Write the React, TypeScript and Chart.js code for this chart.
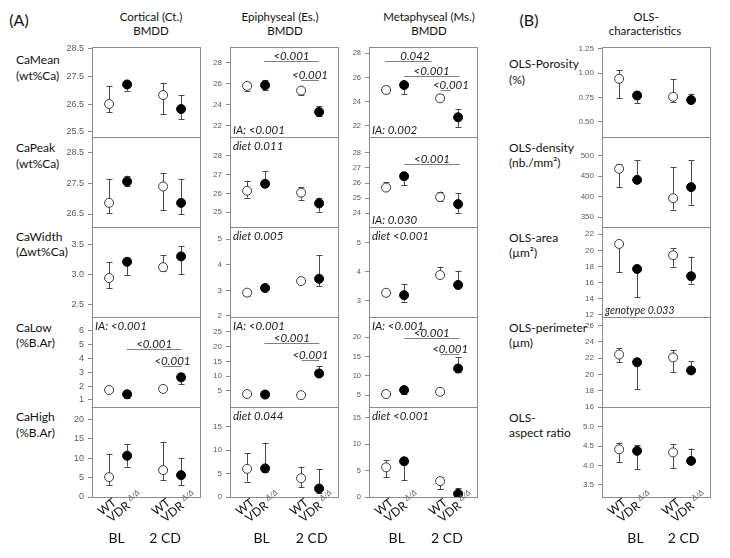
import React, { useEffect, useRef } from "react";
import { Chart, registerables } from "chart.js";
Chart.register(...registerables);

const FONT = "Lato, 'Open Sans', sans-serif";
const TICK_FONT = "'Liberation Sans', Arial, sans-serif";

// ---- categories ----
const X_POS = [1, 2, 4, 5];
const GENOTYPES = ["WT", "VDR", "WT", "VDR"];
const GENO_SUP = ["", "Δ/Δ", "", "Δ/Δ"];
const DIETS = ["BL", "2 CD"];

// ---- values: [mean, lower, upper] for WT-BL, VDR-BL, WT-2CD, VDR-2CD ----
const ctCaMean = [[26.5, 26.2, 27.15], [27.2, 26.98, 27.3], [26.82, 26.13, 27.26], [26.32, 25.96, 26.82]];
const esCaMean = [[25.8, 25.36, 26.16], [25.87, 25.43, 26.38], [25.36, 24.95, 25.69], [23.33, 22.92, 23.9]];
const msCaMean = [[24.96, 24.69, 25.32], [25.37, 24.63, 25.56], [24.27, 24.1, 24.6], [22.7, 21.92, 23.36]];
const ctCaPeak = [[26.86, 26.52, 27.64], [27.55, 27.41, 27.74], [27.39, 26.63, 27.82], [26.86, 26.49, 27.64]];
const esCaPeak = [[26.14, 25.78, 26.67], [26.51, 26.45, 27.17], [26.04, 25.67, 26.32], [25.47, 25.03, 25.78]];
const msCaPeak = [[25.7, 25.65, 26.07], [26.45, 25.87, 26.5], [25.07, 24.79, 25.44], [24.61, 24.04, 25.33]];
const ctCaWidth = [[2.94, 2.77, 3.2], [3.21, 2.99, 3.28], [3.12, 3.05, 3.32], [3.3, 3.0, 3.47]];
const esCaWidth = [[2.91, 2.78, 3.0], [3.09, 3.05, 3.14], [3.36, 3.28, 3.46], [3.45, 3.17, 4.38]];
const msCaWidth = [[3.28, 3.24, 3.32], [3.2, 2.98, 3.57], [3.89, 3.85, 4.18], [3.55, 3.5, 4.04]];
const ctCaLow = [[1.72, 1.65, 1.8], [1.41, 1.13, 1.72], [1.8, 1.7, 1.9], [2.64, 2.16, 2.97]];
const esCaLow = [[3.99, 3.3, 4.6], [3.8, 3.4, 4.2], [3.6, 3.2, 4.0], [10.9, 9.9, 13.4]];
const msCaLow = [[5.26, 5.0, 5.5], [6.3, 5.4, 7.3], [5.85, 5.6, 6.1], [11.9, 11.1, 14.9]];
const ctCaHigh = [[5.1, 3.0, 11.1], [10.6, 7.8, 13.6], [6.9, 4.4, 14.2], [5.6, 3.0, 10.1]];
const esCaHigh = [[6.0, 3.3, 9.4], [6.1, 5.3, 11.6], [4.0, 2.1, 6.5], [1.8, 0.85, 6.0]];
const msCaHigh = [[5.6, 3.75, 6.9], [6.75, 3.2, 7.6], [3.0, 1.5, 3.7], [0.6, 0.2, 1.7]];
const olsPorosity = [[0.942, 0.745, 1.028], [0.77, 0.69, 0.79], [0.757, 0.7, 0.94], [0.723, 0.7, 0.79]];
const olsDensity = [[467.6, 423, 479], [440.7, 438, 488], [396, 368, 472], [423, 380, 489]];
const olsArea = [[20.8, 17.3, 21.0], [17.7, 14.2, 17.85], [19.4, 18.0, 20.3], [16.8, 15.9, 19.2]];
const olsPerimeter = [[22.45, 21.5, 23.2], [21.5, 18.2, 21.6], [22.1, 20.3, 23.0], [20.5, 20.4, 21.6]];
const olsAspect = [[4.42, 4.09, 4.59], [4.38, 3.9, 4.52], [4.34, 3.94, 4.55], [4.12, 4.1, 4.44]];

// ---- tick labels ----
const ctCaMeanTicks = [25.5, 26.5, 27.5, 28.5];
const esCaMeanTicks = [22, 24, 26, 28];
const msCaMeanTicks = [22, 24, 26, 28];
const ctCaPeakTicks = [26.5, 27.5, 28.5];
const esCaPeakTicks = [25, 26, 27, 28];
const msCaPeakTicks = [24, 25, 26, 27, 28];
const ctCaWidthTicks = [2.5, 3.0, 3.5];
const esCaWidthTicks = [2, 3, 4, 5];
const msCaWidthTicks = [3, 4, 5];
const ctCaLowTicks = [1, 2, 3, 4, 5, 6];
const esCaLowTicks = [5, 10, 15, 20, 25];
const msCaLowTicks = [5, 10, 15, 20];
const ctCaHighTicks = [0, 5, 10, 15, 20];
const esCaHighTicks = [0, 5, 10, 15];
const msCaHighTicks = [0, 5, 10, 15];
const olsPorosityTicks = [0.5, 0.75, 1.0, 1.25];
const olsDensityTicks = [350, 400, 450, 500];
const olsAreaTicks = [12, 14, 16, 18, 20, 22];
const olsPerimeterTicks = [16, 18, 20, 22, 24, 26];
const olsAspectTicks = [3.5, 4.0, 4.5, 5.0];

// ---- statistics annotations ----
type Ann =
  | { kind: "bar"; x1: number; x2: number; y: number; text: string; tx?: number }
  | { kind: "tl" | "bl"; text: string; small?: boolean };

const esCaMeanAnn: Ann[] = [
  { kind: "bar", x1: 1.94, x2: 4.99, y: 28.19, text: "<0.001" },
  { kind: "bar", x1: 4.0, x2: 4.99, y: 26.38, text: "<0.001" },
  { kind: "bl", text: "IA: <0.001" },
];
const msCaMeanAnn: Ann[] = [
  { kind: "bar", x1: 0.94, x2: 3.53, y: 27.36, text: "0.042", tx: 2.6 },
  { kind: "bar", x1: 1.99, x2: 5.07, y: 26.14, text: "<0.001" },
  { kind: "bar", x1: 4.03, x2: 4.59, y: 24.96, text: "<0.001", tx: 4.6 },
  { kind: "bl", text: "IA: 0.002" },
];
const esCaPeakAnn: Ann[] = [{ kind: "tl", text: "diet 0.011" }];
const msCaPeakAnn: Ann[] = [
  { kind: "bar", x1: 2.0, x2: 5.1, y: 27.23, text: "<0.001" },
  { kind: "bl", text: "IA: 0.030" },
];
const esCaWidthAnn: Ann[] = [{ kind: "tl", text: "diet 0.005" }];
const msCaWidthAnn: Ann[] = [{ kind: "tl", text: "diet <0.001" }];
const ctCaLowAnn: Ann[] = [
  { kind: "tl", text: "IA: <0.001" },
  { kind: "bar", x1: 1.98, x2: 5.03, y: 4.67, text: "<0.001" },
  { kind: "bar", x1: 4.01, x2: 5.03, y: 3.49, text: "<0.001" },
];
const esCaLowAnn: Ann[] = [
  { kind: "tl", text: "IA: <0.001" },
  { kind: "bar", x1: 1.96, x2: 5.01, y: 21.3, text: "<0.001" },
  { kind: "bar", x1: 4.03, x2: 5.01, y: 15.55, text: "<0.001" },
];
const msCaLowAnn: Ann[] = [
  { kind: "tl", text: "IA: <0.001" },
  { kind: "bar", x1: 2.0, x2: 5.07, y: 19.9, text: "<0.001" },
  { kind: "bar", x1: 4.05, x2: 5.07, y: 15.8, text: "<0.001" },
];
const esCaHighAnn: Ann[] = [{ kind: "tl", text: "diet 0.044" }];
const msCaHighAnn: Ann[] = [{ kind: "tl", text: "diet <0.001" }];
const olsAreaAnn: Ann[] = [{ kind: "bl", text: "genotype 0.033", small: true }];

// ---- layout (style only) ----
const COL_LEFT = [92, 230, 369, 602];
const ROW_TOP = [47, 137, 227, 317, 407];
const BOX_W = 108;
const BOX_H = 90;
const AXIS_W = 40;
const PAD_T = 10;
const PAD_R = 8;
const TICK_SIZE = [9, 8, 7.5, 8];
const DIET_X = [[1.42, 4.11], [1.81, 4.59], [1.59, 4.38], [1.91, 4.58]];

type Spec = {
  col: number; row: number; data: number[][]; ticks: number[]; min: number; max: number; dec: number; ann: Ann[];
};

const SPECS: Spec[] = [
  { col: 0, row: 0, data: ctCaMean, ticks: ctCaMeanTicks, min: 25.32, max: 28.54, dec: 1, ann: [] },
  { col: 1, row: 0, data: esCaMean, ticks: esCaMeanTicks, min: 20.95, max: 29.5, dec: 0, ann: esCaMeanAnn },
  { col: 2, row: 0, data: msCaMean, ticks: msCaMeanTicks, min: 21.07, max: 28.52, dec: 0, ann: msCaMeanAnn },
  { col: 3, row: 0, data: olsPorosity, ticks: olsPorosityTicks, min: 0.342, max: 1.27, dec: 2, ann: [] },
  { col: 0, row: 1, data: ctCaPeak, ticks: ctCaPeakTicks, min: 26.08, max: 28.99, dec: 1, ann: [] },
  { col: 1, row: 1, data: esCaPeak, ticks: esCaPeakTicks, min: 24.22, max: 28.99, dec: 0, ann: esCaPeakAnn },
  { col: 2, row: 1, data: msCaPeak, ticks: msCaPeakTicks, min: 23.1, max: 29.04, dec: 0, ann: msCaPeakAnn },
  { col: 3, row: 1, data: olsDensity, ticks: olsDensityTicks, min: 326, max: 545, dec: 0, ann: [] },
  { col: 0, row: 2, data: ctCaWidth, ticks: ctCaWidthTicks, min: 2.29, max: 3.79, dec: 1, ann: [] },
  { col: 1, row: 2, data: esCaWidth, ticks: esCaWidthTicks, min: 1.96, max: 5.47, dec: 0, ann: esCaWidthAnn },
  { col: 2, row: 2, data: msCaWidth, ticks: msCaWidthTicks, min: 2.45, max: 5.54, dec: 0, ann: msCaWidthAnn },
  { col: 3, row: 2, data: olsArea, ticks: olsAreaTicks, min: 11.75, max: 22.9, dec: 0, ann: olsAreaAnn },
  { col: 0, row: 3, data: ctCaLow, ticks: ctCaLowTicks, min: 0.49, max: 7.01, dec: 0, ann: ctCaLowAnn },
  { col: 1, row: 3, data: esCaLow, ticks: esCaLowTicks, min: -0.4, max: 29.97, dec: 0, ann: esCaLowAnn },
  { col: 2, row: 3, data: msCaLow, ticks: msCaLowTicks, min: 1.9, max: 25.3, dec: 0, ann: msCaLowAnn },
  { col: 3, row: 3, data: olsPerimeter, ticks: olsPerimeterTicks, min: 16, max: 27.07, dec: 0, ann: [] },
  { col: 0, row: 4, data: ctCaHigh, ticks: ctCaHighTicks, min: 0, max: 23.1, dec: 0, ann: [] },
  { col: 1, row: 4, data: esCaHigh, ticks: esCaHighTicks, min: 0, max: 19.2, dec: 0, ann: esCaHighAnn },
  { col: 2, row: 4, data: msCaHigh, ticks: msCaHighTicks, min: 0, max: 17.0, dec: 0, ann: msCaHighAnn },
  { col: 3, row: 4, data: olsAspect, ticks: olsAspectTicks, min: 3.19, max: 5.51, dec: 1, ann: [] },
];

const decoPlugin = {
  id: "panelDeco",
  beforeDatasetsDraw(chart: any, _a: any, opts: any) {
    const spec: Spec = opts.spec;
    const { ctx, chartArea: a, scales } = chart;
    const xs = scales.x, ys = scales.y;
    ctx.save();
    // panel box
    ctx.strokeStyle = "#8c8c8c";
    ctx.lineWidth = 1;
    ctx.strokeRect(Math.round(a.left) + 0.5, Math.round(a.top) + 0.5, Math.round(a.right - a.left), Math.round(a.bottom - a.top));
    // error bars
    ctx.strokeStyle = "#4a4a4a";
    ctx.lineWidth = 1;
    spec.data.forEach((d, i) => {
      const px = Math.round(xs.getPixelForValue(X_POS[i])) + 0.5;
      const yl = ys.getPixelForValue(d[1]);
      const yh = ys.getPixelForValue(d[2]);
      ctx.beginPath();
      ctx.moveTo(px, yl); ctx.lineTo(px, yh);
      ctx.moveTo(px - 3, Math.round(yl) + 0.5); ctx.lineTo(px + 3, Math.round(yl) + 0.5);
      ctx.moveTo(px - 3, Math.round(yh) + 0.5); ctx.lineTo(px + 3, Math.round(yh) + 0.5);
      ctx.stroke();
    });
    ctx.restore();
  },
  afterDatasetsDraw(chart: any, _a: any, opts: any) {
    const spec: Spec = opts.spec;
    const { ctx, chartArea: a, scales } = chart;
    const xs = scales.x, ys = scales.y;
    ctx.save();
    spec.ann.forEach((an) => {
      if (an.kind === "bar") {
        const x1 = xs.getPixelForValue(an.x1), x2 = xs.getPixelForValue(an.x2);
        const y = Math.round(ys.getPixelForValue(an.y)) + 0.5;
        ctx.strokeStyle = "#808080";
        ctx.lineWidth = 1;
        ctx.beginPath(); ctx.moveTo(x1, y); ctx.lineTo(x2, y); ctx.stroke();
        ctx.fillStyle = "#1a1a1a";
        ctx.font = `italic 11.5px ${FONT}`;
        ctx.textAlign = "center";
        ctx.textBaseline = "alphabetic";
        const tx = an.tx !== undefined ? xs.getPixelForValue(an.tx) : (x1 + x2) / 2;
        ctx.fillText(an.text, tx, y - 2);
      } else {
        ctx.fillStyle = "#1a1a1a";
        ctx.font = `italic ${an.small ? 10.5 : 11.5}px ${FONT}`;
        ctx.textAlign = "left";
        ctx.textBaseline = "alphabetic";
        const y = an.kind === "tl" ? a.top + 13 : a.bottom - 3;
        ctx.fillText(an.text, a.left + 3, y);
      }
    });
    ctx.restore();
  },
  afterDraw(chart: any, _a: any, opts: any) {
    const spec: Spec = opts.spec;
    if (spec.row !== 4) return;
    const { ctx, chartArea: a, scales } = chart;
    const xs = scales.x;
    ctx.save();
    X_POS.forEach((xv, i) => {
      const px = xs.getPixelForValue(xv);
      const main = GENOTYPES[i] + (GENO_SUP[i] ? " " : "");
      ctx.font = `12px ${FONT}`;
      const w1 = ctx.measureText(main).width;
      ctx.font = `italic 8px ${FONT}`;
      const w2 = GENO_SUP[i] ? ctx.measureText(GENO_SUP[i]).width : 0;
      const w = w1 + w2;
      ctx.save();
      ctx.translate(px - 2, a.bottom + 10);
      ctx.rotate((-38 * Math.PI) / 180);
      ctx.textAlign = "left";
      ctx.textBaseline = "middle";
      ctx.fillStyle = "#111";
      ctx.font = `12px ${FONT}`;
      ctx.fillText(main, -w / 2, 0);
      if (w2) {
        ctx.fillStyle = "#666";
        ctx.font = `italic 8px ${FONT}`;
        ctx.fillText(GENO_SUP[i], -w / 2 + w1, -4);
      }
      ctx.restore();
    });
    ctx.fillStyle = "#111";
    ctx.font = `14px ${FONT}`;
    ctx.textAlign = "center";
    ctx.textBaseline = "middle";
    DIET_X[spec.col].forEach((dx, j) => ctx.fillText(DIETS[j], xs.getPixelForValue(dx), a.bottom + 41));
    ctx.restore();
  },
};

function Panel({ spec }: { spec: Spec }) {
  const ref = useRef<HTMLCanvasElement>(null);
  const padB = spec.row === 4 ? 60 : 10;
  const w = AXIS_W + BOX_W + PAD_R;
  const h = PAD_T + BOX_H + padB;
  const left = COL_LEFT[spec.col] - AXIS_W;
  const top = ROW_TOP[spec.row] - PAD_T;
  useEffect(() => {
    const idx = [0, 1, 2, 3];
    const chart = new Chart(ref.current as HTMLCanvasElement, {
      type: "scatter",
      data: {
        datasets: [
          {
            data: idx.filter((i) => i % 2 === 0).map((i) => ({ x: X_POS[i], y: spec.data[i][0] })),
            pointRadius: 4.5,
            pointBackgroundColor: "#ffffff",
            pointBorderColor: "#3a3a3a",
            pointBorderWidth: 1,
          },
          {
            data: idx.filter((i) => i % 2 === 1).map((i) => ({ x: X_POS[i], y: spec.data[i][0] })),
            pointRadius: 4.5,
            pointBackgroundColor: "#000000",
            pointBorderColor: "#000000",
            pointBorderWidth: 1,
          },
        ],
      },
      options: {
        animation: false,
        responsive: false,
        devicePixelRatio: 1,
        events: [],
        layout: { padding: { left: 0, top: PAD_T, right: PAD_R, bottom: padB } },
        plugins: {
          legend: { display: false },
          tooltip: { enabled: false },
          panelDeco: { spec },
        } as any,
        scales: {
          x: { type: "linear", min: 0.05, max: 6.05, display: false },
          y: {
            type: "linear",
            min: spec.min,
            max: spec.max,
            afterFit: (s: any) => { s.width = AXIS_W; },
            afterBuildTicks: (s: any) => { s.ticks = spec.ticks.map((v) => ({ value: v })); },
            ticks: {
              autoSkip: false,
              padding: 4,
              color: "#595959",
              font: { size: TICK_SIZE[spec.col], family: TICK_FONT },
              callback: (v: any) => Number(v).toFixed(spec.dec),
            },
            grid: { drawOnChartArea: false, drawTicks: true, tickLength: 4, color: "#8c8c8c" },
            border: { display: false },
          },
        },
      },
      plugins: [decoPlugin],
    } as any);
    return () => chart.destroy();
  }, []);
  return (
    <canvas ref={ref} width={w} height={h} style={{ position: "absolute", left, top, width: w, height: h }} />
  );
}

function Txt({ x, y, children, size = 11.5, align = "center" }: any) {
  return (
    <div
      style={{
        position: "absolute",
        left: x,
        top: y,
        transform: align === "center" ? "translate(-50%, -50%)" : "translate(0, -50%)",
        fontFamily: FONT,
        fontSize: size,
        lineHeight: 1,
        whiteSpace: "nowrap",
        color: "#111",
      }}
    >
      {children}
    </div>
  );
}

const ROW_LABELS_A = [
  ["CaMean", "(wt%Ca)", 60, 76],
  ["CaPeak", "(wt%Ca)", 148, 164],
  ["CaWidth", "(Δwt%Ca)", 237, 252],
  ["CaLow", "(%B.Ar)", 328, 343],
  ["CaHigh", "(%B.Ar)", 417, 433],
];
const ROW_LABELS_B = [
  ["OLS-Porosity", "(%)", 64, 80],
  ["OLS-density", "(nb./mm²)", 148, 163],
  ["OLS-area", "(µm²)", 238, 253],
  ["OLS-perimeter", "(µm)", 328, 343],
  ["OLS-", "aspect ratio", 418, 433],
];

export default function App() {
  return (
    <div style={{ position: "absolute", left: 0, top: 0, width: 730, height: 558, background: "#fff", overflow: "hidden" }}>
      <Txt x={19} y={20} size={16}>(A)</Txt>
      <Txt x={529} y={20} size={16}>(B)</Txt>
      <Txt x={151} y={17}>Cortical (Ct.)</Txt>
      <Txt x={151} y={31}>BMDD</Txt>
      <Txt x={280} y={17}>Epiphyseal (Es.)</Txt>
      <Txt x={285} y={31}>BMDD</Txt>
      <Txt x={429} y={17}>Metaphyseal (Ms.)</Txt>
      <Txt x={429} y={31}>BMDD</Txt>
      <Txt x={646} y={17}>OLS-</Txt>
      <Txt x={645} y={31}>characteristics</Txt>
      {ROW_LABELS_A.map((r, i) => (
        <React.Fragment key={"a" + i}>
          <Txt x={16} y={r[2]} align="left" size={12}>{r[0]}</Txt>
          <Txt x={16} y={r[3]} align="left" size={12}>{r[1]}</Txt>
        </React.Fragment>
      ))}
      {ROW_LABELS_B.map((r, i) => (
        <React.Fragment key={"b" + i}>
          <Txt x={509} y={r[2]} align="left" size={12}>{r[0]}</Txt>
          <Txt x={509} y={r[3]} align="left" size={12}>{r[1]}</Txt>
        </React.Fragment>
      ))}
      {SPECS.map((s, i) => (
        <Panel key={i} spec={s} />
      ))}
    </div>
  );
}
